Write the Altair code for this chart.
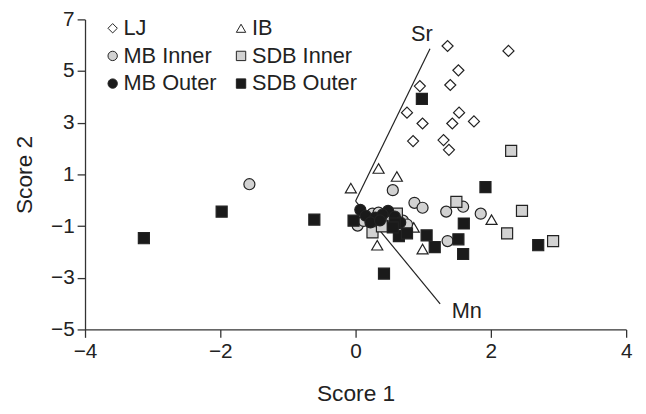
import altair as alt
import pandas as pd

# ---- data ----
groups = ["LJ", "IB", "MB Inner", "SDB Inner", "MB Outer", "SDB Outer"]
legend_order = ["LJ", "MB Inner", "MB Outer", "IB", "SDB Inner", "SDB Outer"]

lj_x = [1.36, 2.26, 1.52, 0.95, 1.40, 0.76, 1.53, 0.99, 1.43, 1.75, 0.85, 1.30, 1.38]
lj_y = [5.97, 5.78, 5.03, 4.42, 4.46, 3.39, 3.39, 2.97, 2.97, 3.05, 2.29, 2.33, 1.95]

ib_x = [0.34, 0.61, -0.07, 0.86, 0.32, 0.99, 2.01]
ib_y = [1.23, 0.92, 0.47, -1.05, -1.74, -1.89, -0.75]

mbi_x = [-1.57, 0.55, 0.87, 0.99, 1.34, 1.59, 1.85, 1.36, 0.03, 0.25, 0.34, 0.70, 0.76, 0.51, 0.12]
mbi_y = [0.62, 0.39, -0.10, -0.29, -0.44, -0.25, -0.52, -1.58, -0.98, -0.52, -0.48, -0.79, -0.94, -0.60, -0.80]

sdbi_x = [2.30, 1.49, 2.46, 2.24, 2.92, 0.25, 0.61, 0.39]
sdbi_y = [1.91, -0.06, -0.41, -1.28, -1.58, -1.24, -0.52, -1.01]

mbo_x = [0.07, 0.15, 0.29, 0.48, 0.58, 0.22, 0.66, 0.40, 0.36]
mbo_y = [-0.37, -0.60, -0.67, -0.41, -0.63, -0.86, -0.86, -0.55, -0.78]

sdbo_x = [0.98, 1.92, -0.61, -0.03, 1.60, 1.05, 1.17, 1.52, 1.59, 2.70, 0.42, 0.64, 0.76, 0.58, 0.55, -1.98, -3.13]
sdbo_y = [3.92, 0.51, -0.75, -0.79, -0.90, -1.36, -1.81, -1.51, -2.08, -1.74, -2.84, -1.39, -1.28, -0.90, -1.05, -0.44, -1.47]

vec_names = ["Sr", "Mn"]
vec_x0 = [0.0, 0.0]
vec_y0 = [-0.03, -0.03]
vec_x1 = [1.10, 1.25]
vec_y1 = [5.86, -4.01]
vec_label_x = [0.98, 1.42]
vec_label_y = [6.45, -4.3]

x_ticks = [-4, -2, 0, 2, 4]
y_ticks = [-5, -3, -1, 1, 3, 5, 7]

# ---- build tables ----
series = [(lj_x, lj_y), (ib_x, ib_y), (mbi_x, mbi_y), (sdbi_x, sdbi_y), (mbo_x, mbo_y), (sdbo_x, sdbo_y)]
rows = []
for g, (xs, ys) in zip(groups, series):
    for a, b in zip(xs, ys):
        rows.append({"group": g, "s1": a, "s2": b})
pts = pd.DataFrame(rows)

vec = pd.DataFrame({"name": vec_names, "x0": vec_x0, "y0": vec_y0, "x1": vec_x1, "y1": vec_y1})
lab = pd.DataFrame({"name": vec_names, "lx": vec_label_x, "ly": vec_label_y})

FONT = "Liberation Sans"
xscale = alt.Scale(domain=[-4, 4], nice=False, zero=False)
yscale = alt.Scale(domain=[-5, 7], nice=False, zero=False)

xaxis = alt.Axis(values=x_ticks, format="d", title="Score 1", titlePadding=22, labelFlush=False, labelOverlap=False)
yaxis = alt.Axis(values=y_ticks, format="d", title="Score 2", titlePadding=14, labelOverlap=False)

legend = alt.Legend(title=None, orient="none", legendX=17, legendY=-2, columns=2,
                    labelFont=FONT, labelFontSize=22, labelColor="#222",
                    symbolStrokeWidth=1, symbolSize=90,
                    rowPadding=6, columnPadding=13, labelOffset=0, padding=0)

shape_scale = alt.Scale(domain=legend_order, range=["diamond", "circle", "circle", "triangle-up", "square", "square"])
fill_scale = alt.Scale(domain=legend_order, range=["#ffffff", "#d2d2d2", "#1a1a1a", "#ffffff", "#d2d2d2", "#1a1a1a"])
stroke_scale = alt.Scale(domain=legend_order, range=["#222222"] * 6)

points = alt.Chart(pts).mark_point(filled=True, strokeWidth=1.2, opacity=1, size=125).encode(
    x=alt.X("s1:Q", scale=xscale, axis=xaxis),
    y=alt.Y("s2:Q", scale=yscale, axis=yaxis),
    shape=alt.Shape("group:N", scale=shape_scale, legend=legend),
    fill=alt.Fill("group:N", scale=fill_scale, legend=legend),
    stroke=alt.Stroke("group:N", scale=stroke_scale, legend=legend),
)

lines = alt.Chart(vec).mark_rule(color="#222", strokeWidth=1.2).encode(
    x=alt.X("x0:Q", scale=xscale), y=alt.Y("y0:Q", scale=yscale),
    x2="x1:Q", y2="y1:Q",
)

text_sr = alt.Chart(lab[lab["name"] == "Sr"]).mark_text(font=FONT, fontSize=22, color="#222", align="center", baseline="middle").encode(
    x=alt.X("lx:Q", scale=xscale), y=alt.Y("ly:Q", scale=yscale), text="name:N")
text_mn = alt.Chart(lab[lab["name"] == "Mn"]).mark_text(font=FONT, fontSize=22, color="#222", align="left", baseline="middle").encode(
    x=alt.X("lx:Q", scale=xscale), y=alt.Y("ly:Q", scale=yscale), text="name:N")

chart = alt.layer(lines, points, text_sr, text_mn).properties(
    width=548, height=314,
    padding={"left": 78, "top": 9, "right": 12, "bottom": 75},
    autosize=alt.AutoSizeParams(type="none"),
).configure_view(stroke=None).configure_axis(
    grid=False, domainColor="#333", domainWidth=1.3, tickColor="#333", tickWidth=1.3, tickSize=8,
    labelFont=FONT, labelFontSize=21, labelColor="#222", labelPadding=3,
    titleFont=FONT, titleFontSize=23, titleFontWeight="normal", titleColor="#222",
)

chart.save("out.html", embed_options={"renderer": "svg", "actions": False})
